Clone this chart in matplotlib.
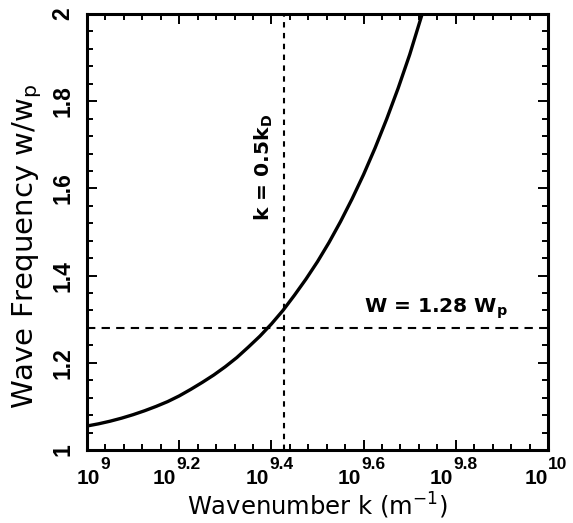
import numpy as np
import matplotlib
matplotlib.use("Agg")
import matplotlib.pyplot as plt
from matplotlib.ticker import FixedLocator, FuncFormatter, NullFormatter

# Dispersion curve: log10 of wavenumber (m^-1) and normalised frequency w/wp
log_k = [9.000, 9.025, 9.050, 9.075, 9.100, 9.125, 9.150, 9.175, 9.200,
         9.225, 9.250, 9.275, 9.300, 9.325, 9.350, 9.375, 9.400, 9.425,
         9.450, 9.475, 9.500, 9.525, 9.550, 9.575, 9.600, 9.625, 9.650,
         9.675, 9.700, 9.727]
w_ratio = [1.055, 1.060, 1.066, 1.073, 1.081, 1.090, 1.100, 1.111, 1.124,
           1.139, 1.155, 1.172, 1.191, 1.212, 1.236, 1.261, 1.289, 1.320,
           1.355, 1.392, 1.432, 1.476, 1.524, 1.576, 1.632, 1.693, 1.759,
           1.830, 1.907, 2.000]

# Reference markers
log_k_half_debye = 9.427   # k = 0.5 k_D
w_marker = 1.28            # W = 1.28 W_p

x_major_exp = [9.0, 9.2, 9.4, 9.6, 9.8, 10.0]
x_exp_labels = ["9", "9.2", "9.4", "9.6", "9.8", "10"]
y_major = [1.0, 1.2, 1.4, 1.6, 1.8, 2.0]

DPI = 100
fig = plt.figure(figsize=(5.73, 5.23), dpi=DPI)
ax = fig.add_axes([0.1518, 0.1396, 0.8046, 0.8336])

k = 10 ** np.array(log_k)
ax.plot(k, w_ratio, color='black', lw=2.4, solid_joinstyle='round')

ax.axvline(10 ** log_k_half_debye, color='black', lw=1.5, ls=(0, (2.6, 2.6)))
ax.axhline(w_marker, color='black', lw=1.5, ls=(0, (4, 3)))

ax.set_xscale('log')
ax.set_xlim(1e9, 1e10)
ax.set_ylim(1, 2)

ax.xaxis.set_major_locator(FixedLocator([10 ** e for e in x_major_exp]))
minor_exp = [9 + 0.04 * i for i in range(26) if i % 5 != 0]
ax.xaxis.set_minor_locator(FixedLocator([10 ** e for e in minor_exp]))
ax.xaxis.set_major_formatter(NullFormatter())
ax.xaxis.set_minor_formatter(NullFormatter())

ax.yaxis.set_major_locator(FixedLocator(y_major))
ax.yaxis.set_minor_locator(FixedLocator([1 + 0.04 * i for i in range(26) if i % 5 != 0]))
ax.yaxis.set_major_formatter(FuncFormatter(lambda v, p: f"{v:g}"))

ax.tick_params(which='both', direction='in', top=True, right=True,
               width=1.4, color='black')
ax.tick_params(which='major', length=7.5)
ax.tick_params(which='minor', length=4.5)
ax.tick_params(axis='y', which='major', labelsize=16.5, pad=9)

for lab in ax.get_yticklabels():
    lab.set_rotation(90)
    lab.set_fontweight('bold')
    lab.set_va('center')
    lab.set_family('Liberation Sans')

for sp in ax.spines.values():
    sp.set_linewidth(2.2)

# Power-of-ten tick labels on the k axis, built as base + raised exponent
base_kw = dict(xycoords=('data', 'axes fraction'), textcoords='offset points',
               fontsize=15, fontweight='bold', family='Liberation Sans',
               va='baseline')
sup_kw = dict(base_kw, fontsize=12.5)
pairs = []
for e, s in zip(x_major_exp, x_exp_labels):
    b = ax.annotate("10", xy=(10 ** e, 0), xytext=(0, -24.5), ha='right', **base_kw)
    t = ax.annotate(s, xy=(10 ** e, 0), xytext=(0, -13.5), ha='left', **sup_kw)
    pairs.append((b, t))

fig.canvas.draw()
renderer = fig.canvas.get_renderer()
px2pt = 72.0 / DPI
for i, (b, t) in enumerate(pairs):
    wb = b.get_window_extent(renderer).width
    ws = t.get_window_extent(renderer).width
    shift = (wb - ws) / 2.0 + (7.0 if i == 0 else -2.0)
    b.set_position(((shift - 0.5) * px2pt, -24.5))
    t.set_position(((shift + 0.0) * px2pt, -13.5))

ax.set_xlabel(r"Wavenumber k (m$^{\mathregular{-1}}$)", fontsize=17.5,
              family='DejaVu Sans', labelpad=26)
ax.set_ylabel(r"Wave Frequency w/w$_{\mathregular{p}}$", fontsize=21,
              family='DejaVu Sans')
ax.yaxis.set_label_coords(-0.094, 0.468)

ax.text(10 ** 9.384, 1.647, r"k = 0.5k$_\mathbf{D}$", rotation=90,
        ha='center', va='center', fontsize=14.6, fontweight='bold',
        family='DejaVu Sans')
ax.text(10 ** 9.757, 1.325, r"W = 1.28 W$_\mathbf{p}$",
        ha='center', va='center', fontsize=14.6, fontweight='bold',
        family='DejaVu Sans')

fig.savefig("out.png", dpi=DPI)
